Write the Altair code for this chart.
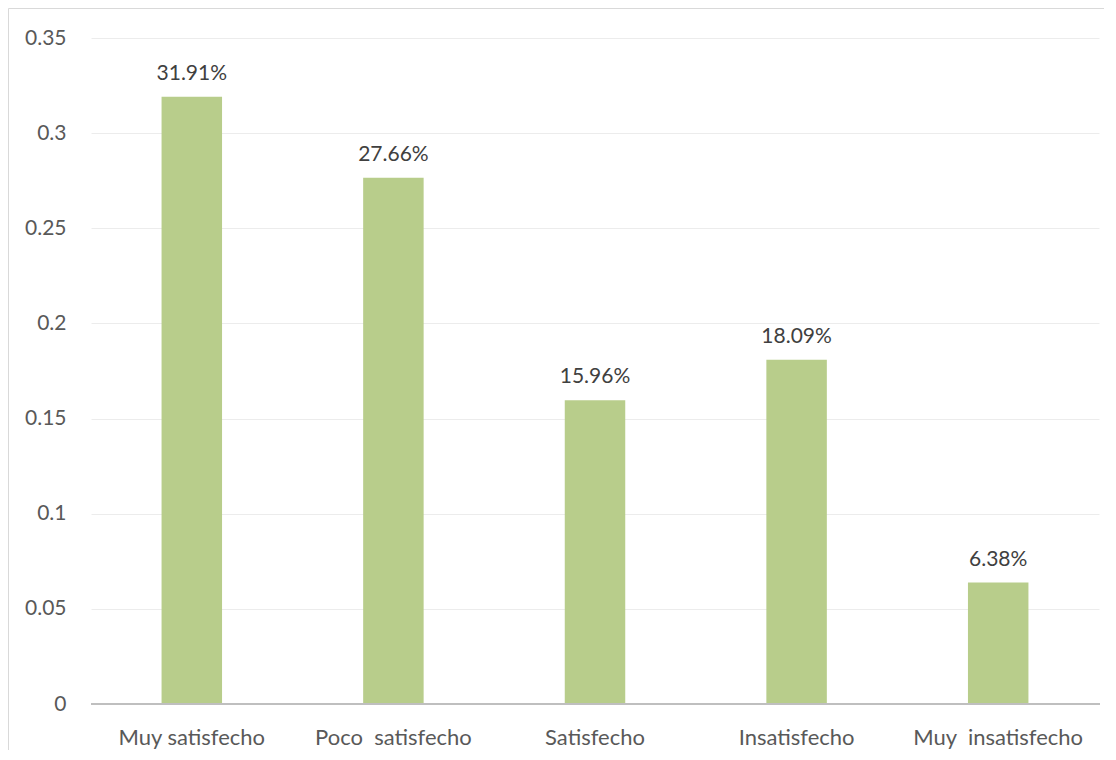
import altair as alt
import pandas as pd

categories = ["Muy satisfecho", "Poco\u00a0 satisfecho", "Satisfecho", "Insatisfecho", "Muy\u00a0 insatisfecho"]
values = [0.3191, 0.2766, 0.1596, 0.1809, 0.0638]
labels = ["31.91%", "27.66%", "15.96%", "18.09%", "6.38%"]

df = pd.DataFrame({"cat": categories, "val": values, "lab": labels})

FONT = "Lato"
W, H = 1008, 666

x = alt.X("cat:N", sort=categories, title=None,
          scale=alt.Scale(paddingInner=0, paddingOuter=0),
          axis=alt.Axis(labelAngle=0, ticks=False, domain=False, labelPadding=23,
                        labelFontSize=22, labelColor="#595959", labelFont=FONT, grid=False))
y = alt.Y("val:Q", title=None,
          scale=alt.Scale(domain=[0, 0.35], nice=False),
          axis=alt.Axis(values=[0, 0.05, 0.1, 0.15, 0.2, 0.25, 0.3, 0.35],
                        format="~g", ticks=False, domain=False, labelPadding=25,
                        labelFontSize=21, labelColor="#595959", labelFont=FONT,
                        grid=True, gridColor="#ececec", gridWidth=1))

bars = alt.Chart(df).mark_bar(color="#b8cd8b", width=alt.RelativeBandSize(0.3)).encode(x=x, y=y)
text = alt.Chart(df).mark_text(baseline="bottom", dy=-13, fontSize=21, font=FONT,
                               color="#404040").encode(x=alt.X("cat:N", sort=categories), y="val:Q", text="lab:N")

base = alt.Chart(df).mark_rule(color="#bfbfbf", strokeWidth=2).encode(
    x=alt.value(0), x2=alt.value(W + 1), y=alt.value(H))

border_df = pd.DataFrame({"k": [0]})
left = alt.Chart(border_df).mark_rule(color="#d9d9d9", strokeWidth=1).encode(
    x=alt.value(-82.5), y=alt.value(-29.5), y2=alt.value(H + 80))
top = alt.Chart(border_df).mark_rule(color="#d9d9d9", strokeWidth=1).encode(
    x=alt.value(-82.5), x2=alt.value(W + 20), y=alt.value(-29.5))

chart = alt.layer(bars, text, base, left, top).properties(
    width=W, height=H,
    background="white",
    autosize=alt.AutoSizeParams(type="none"),
    padding={"left": 83, "top": 30, "right": 5, "bottom": 46},
).configure_view(strokeWidth=0, stroke="transparent")

chart.save("out.html", embed_options={"renderer": "svg", "actions": False})
